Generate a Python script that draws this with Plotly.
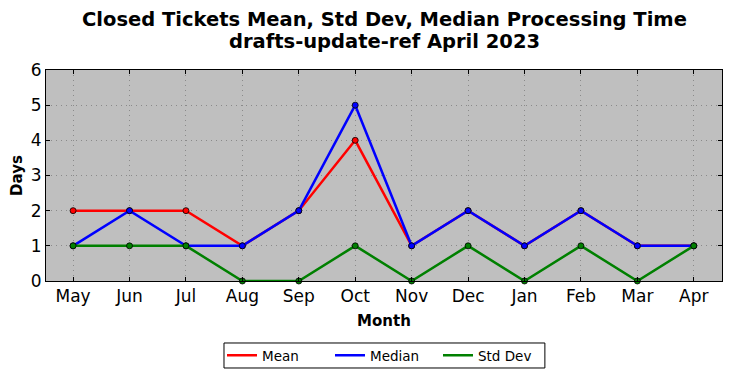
import plotly.graph_objects as go

months = ["May", "Jun", "Jul", "Aug", "Sep", "Oct", "Nov", "Dec", "Jan", "Feb", "Mar", "Apr"]
mean_vals = [2, 2, 2, 1, 2, 4, 1, 2, 1, 2, 1, 1]
median_vals = [1, 2, 1, 1, 2, 5, 1, 2, 1, 2, 1, 1]
std_vals = [1, 1, 1, 0, 0, 1, 0, 1, 0, 1, 0, 1]

series = [("Mean", mean_vals, "#ff0000"), ("Median", median_vals, "#0000ff"), ("Std Dev", std_vals, "#008000")]

fig = go.Figure()
xs = list(range(len(months)))
for name, vals, col in series:
    fig.add_trace(go.Scatter(
        x=xs, y=vals, name=name, mode="lines",
        line=dict(color=col, width=2.5), cliponaxis=False,
    ))
    fig.add_trace(go.Scatter(
        x=xs, y=vals, name=name, mode="markers", showlegend=False,
        marker=dict(color=col, size=6, line=dict(color="black", width=0.8)),
        cliponaxis=False,
    ))

font = "DejaVu Sans, Arial, sans-serif"
fig.update_layout(
    width=716, height=362,
    margin=dict(l=38, r=2, t=62, b=89, autoexpand=False),
    paper_bgcolor="white", plot_bgcolor="#bfbfbf",
    font=dict(family=font, color="black"),
    showlegend=True,
    legend=dict(orientation="h", x=0.5, xanchor="center", y=-0.353, yanchor="middle",
                borderwidth=0, bgcolor="rgba(0,0,0,0)", font=dict(size=13.5),
                entrywidth=63, entrywidthmode="pixels"),
    shapes=[dict(type="rect", xref="paper", yref="paper", x0=0.2633, x1=0.738, y0=-0.2938, y1=-0.4123,
                 line=dict(color="black", width=1), fillcolor="white", layer="below")],
    annotations=[
        dict(text="<b>Closed Tickets Mean, Std Dev, Median Processing Time</b>", xref="paper", yref="paper",
             x=0.5, y=1.2417, xanchor="center", yanchor="middle", showarrow=False, font=dict(size=19.5)),
        dict(text="<b>drafts-update-ref April 2023</b>", xref="paper", yref="paper",
             x=0.5, y=1.1374, xanchor="center", yanchor="middle", showarrow=False, font=dict(size=19.5)),
    ],
)
fig.update_xaxes(
    tickmode="array", tickvals=xs, ticktext=months, automargin=False,
    range=[-0.48, 11.5], showgrid=True, gridcolor="#8a8a8a", griddash="1px,4px", gridwidth=1,
    zeroline=False, showline=True, linecolor="black", linewidth=1, mirror="ticks",
    ticks="inside", ticklen=4, tickcolor="black", tickfont=dict(size=17),
    title=dict(text="<b>Month</b>", font=dict(size=15), standoff=10),
)
fig.update_yaxes(
    range=[0, 6], dtick=1, automargin=False, showgrid=True, gridcolor="#8a8a8a", griddash="1px,4px", gridwidth=1,
    zeroline=False, showline=True, linecolor="black", linewidth=1, mirror="ticks",
    ticks="inside", ticklen=4, tickcolor="black", tickfont=dict(size=17),
    title=dict(text="<b>Days</b>", font=dict(size=15), standoff=8),
)
fig.write_html("out.html")
